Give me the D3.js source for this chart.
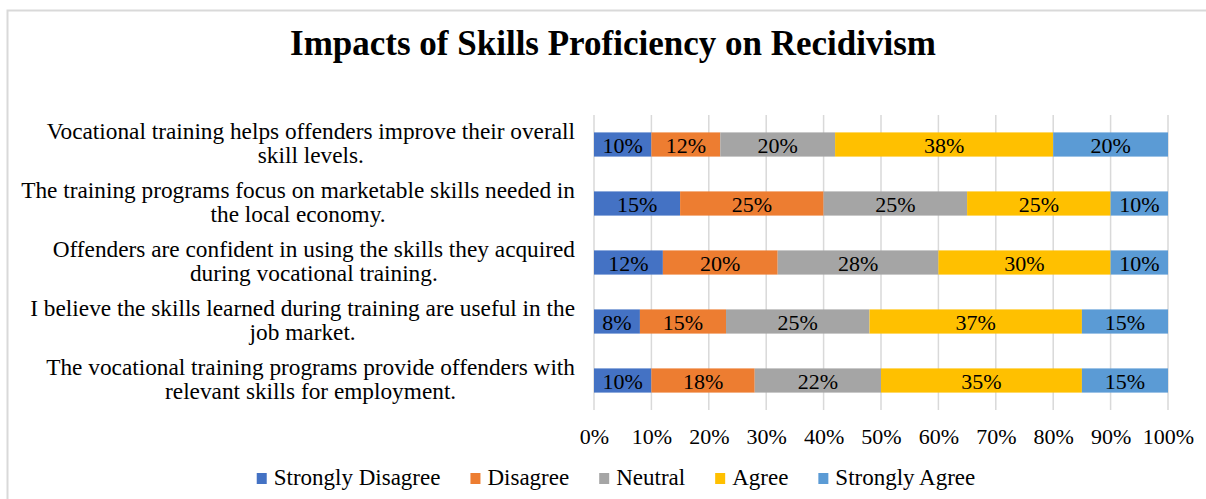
<!DOCTYPE html>
<html>
<head>
<meta charset="utf-8">
<script src="https://cdn.jsdelivr.net/npm/d3@7"></script>
<style>
  body { margin: 0; background: #fff; }
  text { font-family: "Liberation Serif", "Times New Roman", serif; fill: #000; }
</style>
</head>
<body>
<div class="chart"></div>
<script>
// chart data
var categories = [
  "Vocational training helps offenders improve their overall|skill levels.",
  "The training programs focus on marketable skills needed in|the local economy.",
  "Offenders are confident in using the skills they acquired|during vocational training.",
  "I believe the skills learned during training are useful in the|job market.",
  "The vocational training programs provide offenders with|relevant skills for employment."
];
var seriesNames = ["Strongly Disagree", "Disagree", "Neutral", "Agree", "Strongly Agree"];
var stronglyDisagree = [10, 15, 12, 8, 10];
var disagree = [12, 25, 20, 15, 18];
var neutral = [20, 25, 28, 25, 22];
var agree = [38, 25, 30, 37, 35];
var stronglyAgree = [20, 10, 10, 15, 15];
var tickValues = [0, 10, 20, 30, 40, 50, 60, 70, 80, 90, 100];

var seriesValues = [stronglyDisagree, disagree, neutral, agree, stronglyAgree];
var colors = ["#4472C4", "#ED7D31", "#A5A5A5", "#FFC000", "#5B9BD5"];

var W = 1206, H = 499;
var plot = {left: 594, right: 1168, top: 115, bottom: 410};

var svg = d3.select(".chart").append("svg")
  .attr("width", W)
  .attr("height", H);

// outer frame (only top and left edges show)
svg.append("path")
  .attr("d", "M7.5," + H + "V10.5H" + W)
  .attr("fill", "none")
  .attr("stroke", "#d9d9d9")
  .attr("stroke-width", 2);

// title
svg.append("text")
  .attr("x", 613)
  .attr("y", 55)
  .attr("text-anchor", "middle")
  .attr("font-size", 35)
  .attr("font-weight", "bold")
  .text("Impacts of Skills Proficiency on Recidivism");

var x = d3.scaleLinear().domain([0, 100]).range([plot.left, plot.right]);
var y = d3.scaleBand().domain(categories).range([plot.top, plot.bottom])
  .paddingInner(0.59).paddingOuter(0.295);

// gridlines
svg.append("g").selectAll("line")
  .data(tickValues)
  .enter().append("line")
  .attr("x1", function(d) {return x(d)})
  .attr("x2", function(d) {return x(d)})
  .attr("y1", plot.top)
  .attr("y2", plot.bottom)
  .attr("stroke", "#d9d9d9")
  .attr("stroke-width", 1.5);

// x axis labels
var xAxis = svg.append("g")
  .attr("transform", "translate(0," + plot.bottom + ")")
  .call(d3.axisBottom(x).tickValues(tickValues).tickSize(0).tickPadding(0)
    .tickFormat(function(d) {return d + "%"}));
xAxis.select(".domain").remove();
xAxis.selectAll("text")
  .attr("y", 34)
  .attr("dy", null)
  .attr("font-size", 22);

// stacked bars
var rows = categories.map(function(c, i) {
  var o = {category: c};
  seriesNames.forEach(function(s, j) { o[s] = seriesValues[j][i]; });
  return o;
});
var stacked = d3.stack().keys(seriesNames)(rows);

var layers = svg.append("g").selectAll("g")
  .data(stacked)
  .enter().append("g")
  .attr("fill", function(d, i) {return colors[i]});

layers.selectAll("rect")
  .data(function(d) {return d})
  .enter().append("rect")
  .attr("x", function(d) {return x(d[0])})
  .attr("y", function(d) {return y(d.data.category)})
  .attr("width", function(d) {return x(d[1]) - x(d[0])})
  .attr("height", y.bandwidth());

layers.selectAll("text")
  .data(function(d) {return d})
  .enter().append("text")
  .attr("x", function(d) {return (x(d[0]) + x(d[1])) / 2})
  .attr("y", function(d) {return y(d.data.category) + y.bandwidth() / 2 + 8})
  .attr("text-anchor", "middle")
  .attr("font-size", 22)
  .text(function(d) {return (d[1] - d[0]) + "%"});

// category labels, centred lines, block right-aligned
var labelRight = 575;
categories.forEach(function(c) {
  var lines = c.split("|");
  var cy = y(c) + y.bandwidth() / 2;
  var g = svg.append("g");
  var texts = lines.map(function(line, k) {
    return g.append("text")
      .attr("y", cy - 6 + k * 24)
      .attr("text-anchor", "middle")
      .attr("font-size", 23.3)
      .text(line);
  });
  var maxW = d3.max(texts, function(t) {return t.node().getComputedTextLength()});
  texts.forEach(function(t) { t.attr("x", labelRight - maxW / 2); });
});

// legend
var legend = svg.append("g");
var lx = 0;
seriesNames.forEach(function(s, i) {
  var item = legend.append("g").attr("transform", "translate(" + lx + ",0)");
  item.append("rect")
    .attr("x", 0).attr("y", 473)
    .attr("width", 10).attr("height", 11)
    .attr("fill", colors[i]);
  var t = item.append("text")
    .attr("x", 17)
    .attr("y", 485)
    .attr("font-size", 23)
    .text(s);
  lx += 17 + t.node().getComputedTextLength() + 30;
});
var legendW = lx - 30;
legend.attr("transform", "translate(" + (616 - legendW / 2) + ",0)");
</script>
</body>
</html>
